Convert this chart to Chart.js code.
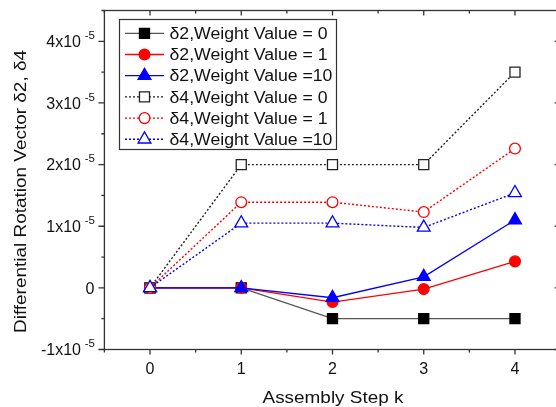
<!DOCTYPE html>
<html>
<head>
<meta charset="utf-8">
<script src="https://cdn.jsdelivr.net/npm/chart.js@4/dist/chart.umd.min.js"></script>
<style>
  html, body { margin: 0; padding: 0; background: #fff; overflow: hidden; }
  #wrap { width: 566px; height: 407px; }
</style>
</head>
<body>
<div id="wrap"><canvas id="myChart" width="566" height="407"></canvas></div>
<script>
// values (y in absolute units)
const steps = [0, 1, 2, 3, 4];
const d2W0 = [0, 0, -0.5e-5, -0.5e-5, -0.5e-5];
const d2W1 = [0, 0, -0.23e-5, -0.02e-5, 0.43e-5];
const d2W10 = [0, 0, -0.16e-5, 0.18e-5, 1.10e-5];
const d4W0 = [0, 2.0e-5, 2.0e-5, 2.0e-5, 3.5e-5];
const d4W1 = [0, 1.39e-5, 1.39e-5, 1.23e-5, 2.26e-5];
const d4W10 = [0, 1.05e-5, 1.05e-5, 0.98e-5, 1.54e-5];
const seriesLabels = ['δ2,Weight Value = 0', 'δ2,Weight Value = 1', 'δ2,Weight Value =10',
                      'δ4,Weight Value = 0', 'δ4,Weight Value = 1', 'δ4,Weight Value =10'];
const xTicks = [0, 1, 2, 3, 4];
const yTicks = [-1, 0, 1, 2, 3, 4]; // multiples of 1e-5
const xTitle = 'Assembly Step k';
const yTitle = 'Differential Rotation Vector δ2, δ4';

const FONT = '"Liberation Sans", Arial, sans-serif';

function toPoints(values) {
  return steps.map((s, i) => ({ x: s, y: values[i] }));
}

function makeSet(label, values, color, lineColor, filled, style, radius, dashed, order) {
  return {
    label: label,
    data: toPoints(values),
    showLine: true,
    borderColor: lineColor,
    borderWidth: dashed ? 1.4 : 1.3,
    borderDash: dashed ? [2, 2] : [],
    pointStyle: style,
    pointRadius: radius,
    pointHoverRadius: radius,
    pointBorderWidth: 1.3,
    pointBorderColor: color,
    pointBackgroundColor: filled ? color : '#fff',
    order: order
  };
}

const datasets = [
  makeSet(seriesLabels[0], d2W0, '#000', '#555', true, 'rect', 7.1, false, 6),
  makeSet(seriesLabels[1], d2W1, '#ff0000', '#ff0000', true, 'circle', 5.4, false, 5),
  makeSet(seriesLabels[2], d2W10, '#0000ff', '#0000ff', true, 'triangle', 7.4, false, 4),
  makeSet(seriesLabels[3], d4W0, '#222', '#222', false, 'rect', 7.1, true, 3),
  makeSet(seriesLabels[4], d4W1, '#ff0000', '#ff0000', false, 'circle', 5.4, true, 2),
  makeSet(seriesLabels[5], d4W10, '#0000ff', '#0000ff', false, 'triangle', 7.4, true, 1)
];

// draws a text stretched horizontally to a given width
function stretchText(ctx, text, x, y, targetW, align) {
  const w = ctx.measureText(text).width;
  ctx.save();
  ctx.translate(x, y);
  ctx.scale(targetW / w, 1);
  ctx.textAlign = align;
  ctx.fillText(text, 0, 0);
  ctx.restore();
}

const decorations = {
  id: 'decorations',
  afterDraw(chart) {
    const ctx = chart.ctx;
    const a = chart.chartArea;
    const xs = chart.scales.x;
    const ys = chart.scales.y;
    ctx.save();

    // frame
    ctx.strokeStyle = '#333';
    ctx.lineWidth = 1.3;
    ctx.setLineDash([]);
    ctx.strokeRect(a.left, a.top, a.right - a.left, a.bottom - a.top);

    // x ticks: outward at bottom, inward at top
    ctx.beginPath();
    for (let v = -0.5; v <= 4.5; v += 0.5) {
      const px = xs.getPixelForValue(v);
      const len = Number.isInteger(v) ? 5 : 3;
      ctx.moveTo(px, a.bottom); ctx.lineTo(px, a.bottom + len);
      ctx.moveTo(px, a.top); ctx.lineTo(px, a.top + len);
    }
    // y ticks: outward at left, inward at right
    for (let v = -1; v <= 4.5; v += 0.5) {
      const py = ys.getPixelForValue(v * 1e-5);
      const len = Number.isInteger(v) ? 6 : 3;
      ctx.moveTo(a.left, py); ctx.lineTo(a.left - len, py);
      ctx.moveTo(a.right, py); ctx.lineTo(a.right - len, py);
    }
    ctx.stroke();

    // tick labels
    ctx.fillStyle = '#111';
    ctx.textBaseline = 'alphabetic';
    ctx.font = '16px ' + FONT;
    ctx.textAlign = 'center';
    xTicks.forEach(t => ctx.fillText(String(t), xs.getPixelForValue(t), 373.5));

    yTicks.forEach(t => {
      const py = ys.getPixelForValue(t * 1e-5);
      if (t === 0) {
        ctx.font = '16px ' + FONT;
        ctx.textAlign = 'right';
        ctx.fillText('0', 94.5, py + 5.8);
        return;
      }
      ctx.font = '11.5px ' + FONT;
      ctx.textAlign = 'right';
      ctx.fillText('-5', 95, py - 2.4);
      ctx.font = '16px ' + FONT;
      ctx.fillText(t + 'x10', 81, py + 5.8);
    });

    // axis titles
    ctx.font = '17px ' + FONT;
    stretchText(ctx, xTitle, (a.left + a.right) / 2 + 0.5, 403.3, 141, 'center');
    ctx.save();
    ctx.translate(25.5, 191.5);
    ctx.rotate(-Math.PI / 2);
    stretchText(ctx, yTitle, 0, 0, 283, 'center');
    ctx.restore();

    // legend box
    ctx.fillStyle = '#fff';
    ctx.fillRect(119.5, 19.5, 217, 130);
    ctx.strokeStyle = '#333';
    ctx.lineWidth = 1.2;
    ctx.strokeRect(119.5, 19.5, 217, 130);

    ctx.font = '16px ' + FONT;
    const scaleW = 158 / ctx.measureText(seriesLabels[0]).width;
    chart.data.datasets.forEach((ds, i) => {
      const ry = 33.3 + i * 21.2;
      ctx.strokeStyle = ds.borderColor;
      ctx.lineWidth = ds.borderWidth;
      ctx.setLineDash(ds.borderDash);
      ctx.beginPath();
      ctx.moveTo(125, ry); ctx.lineTo(164, ry);
      ctx.stroke();
      ctx.setLineDash([]);
      ctx.strokeStyle = ds.pointBorderColor;
      ctx.fillStyle = ds.pointBackgroundColor;
      ctx.lineWidth = ds.pointBorderWidth;
      Chart.helpers.drawPoint(ctx, {
        pointStyle: ds.pointStyle, radius: ds.pointRadius, rotation: 0, borderWidth: ds.pointBorderWidth
      }, 144.5, ry);
      ctx.fillStyle = '#111';
      const w = ctx.measureText(ds.label).width;
      stretchText(ctx, ds.label, 169.5, ry + 5.7, w * scaleW, 'left');
    });

    ctx.restore();
  }
};

new Chart(document.getElementById('myChart'), {
  type: 'scatter',
  data: { datasets: datasets },
  options: {
    responsive: false,
    animation: false,
    events: [],
    layout: { autoPadding: false, padding: { left: 104.4, top: 10.5, right: 5.4, bottom: 57.5 } },
    plugins: { legend: { display: false }, tooltip: { enabled: false } },
    scales: {
      x: { type: 'linear', min: -0.5, max: 4.5, display: false },
      y: { type: 'linear', min: -1e-5, max: 4.5e-5, display: false }
    }
  },
  plugins: [decorations]
});
</script>
</body>
</html>
